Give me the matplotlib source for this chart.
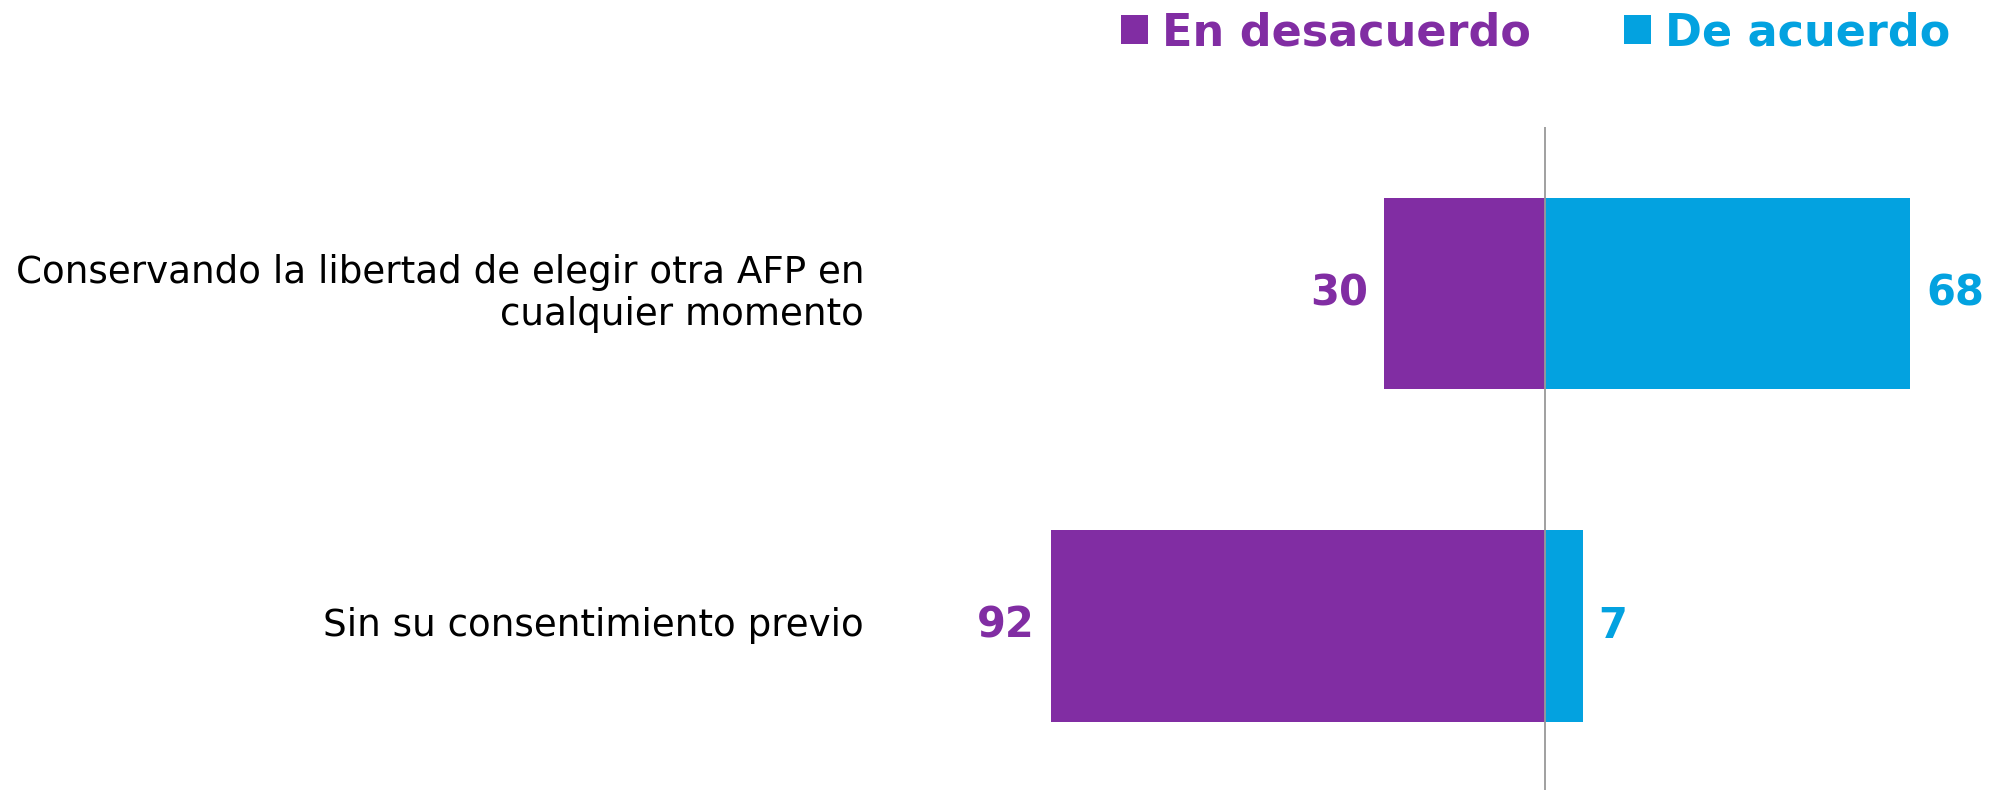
import matplotlib
matplotlib.use("Agg")
import matplotlib.pyplot as plt

# datos
categorias = ["Conservando la libertad de elegir otra AFP en\ncualquier momento",
              "Sin su consentimiento previo"]
desacuerdo = [30, 92]
acuerdo = [68, 7]

color_des = "#812DA3"
color_acu = "#03A2E0"

plt.rcParams['font.family'] = ['DejaVu Sans']

fig = plt.figure(figsize=(19.99, 7.90), dpi=100)
W, H = 1999, 790
# ejes en pixeles: x 880..1999, y 127..790 (desde arriba)
ax = fig.add_axes([880 / W, 0, 1 - 880 / W, (790 - 127) / H])

y = [0, 1]
h = 0.575
b1 = ax.barh(y, [-v for v in desacuerdo], height=h, color=color_des, label="En desacuerdo")
b2 = ax.barh(y, acuerdo, height=h, color=color_acu, label="De acuerdo")
ax.axvline(0, color="#999999", linewidth=1.3)

ppu = 5.37  # pixeles por unidad
ax.set_xlim(-(1545 - 880) / ppu, (1999 - 1545) / ppu)
ax.set_ylim(1.493, -0.5)
ax.axis("off")

off = 16 / ppu
for yi, d, a in zip(y, desacuerdo, acuerdo):
    ax.text(-d - off, yi, str(d), ha="right", va="center", fontsize=30,
            fontweight="bold", color=color_des)
    ax.text(a + off, yi, str(a), ha="left", va="center", fontsize=30,
            fontweight="bold", color=color_acu)
    ax.text(-(1545 - 864) / ppu, yi, categorias[yi], ha="right", va="center",
            fontsize=26.8, color="black", linespacing=1.15)

fig.legend(handles=[b1, b2], loc="center right", bbox_to_anchor=(1990 / W, 1 - 33 / H),
           ncol=2, frameon=False, handlelength=0.62, handleheight=0.62,
           handletextpad=0.3, columnspacing=2.1, labelcolor=[color_des, color_acu],
           prop={'weight': 'bold', 'size': 32})

fig.savefig("out.png", dpi=100)
